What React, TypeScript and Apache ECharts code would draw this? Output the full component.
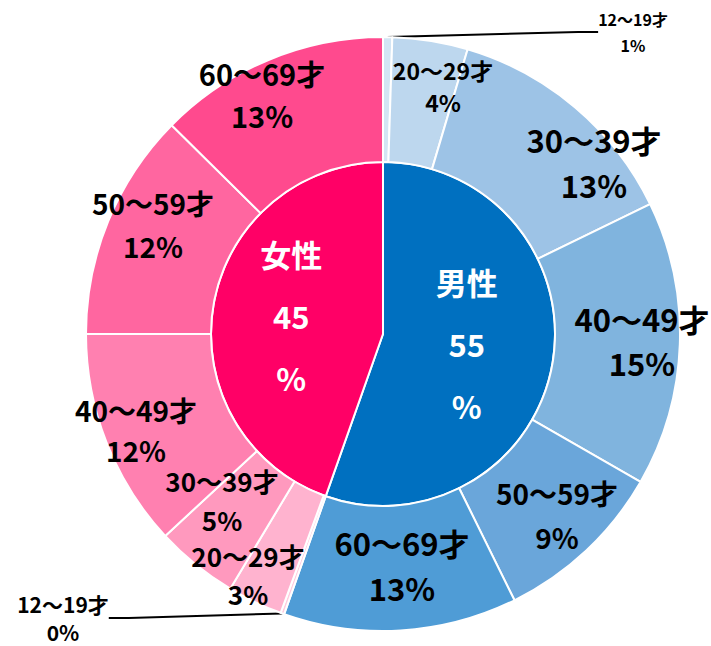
import React, { useEffect, useRef } from "react";
import * as echarts from "echarts";

const genders = ["男性", "女性"];
const genderValues = [55.4, 44.6];
const genderLabels = ["55", "45"];
const genderColors = ["#0070C0", "#FF0066"];

const ageGroups = ["12～19才", "20～29才", "30～39才", "40～49才", "50～59才", "60～69才"];
const maleValues = [0.5, 4.1, 13.2, 15.5, 9.4, 12.7];
const maleLabels = ["1%", "4%", "13%", "15%", "9%", "13%"];
const femaleValues = [0.2, 3.0, 4.5, 11.9, 12.4, 12.6];
const femaleLabels = ["0%", "3%", "5%", "12%", "12%", "13%"];

// styles
const maleColors = ["#D3E5F4", "#BDD7EE", "#9DC3E6", "#80B4DE", "#6AA6DA", "#4F9CD6"];
const femaleColors = ["#FFCCE0", "#FFB3CF", "#FF99BE", "#FF80B0", "#FF66A0", "#FF4A8E"];
const maleFontSizes = [16, 23, 31, 31, 28, 31];
const femaleFontSizes = [21, 26, 26, 28, 28, 29];
const maleLineHeights = [26, 32, 45, 44, 44, 45];
const femaleLineHeights = [28, 38, 39, 40, 43, 42];
// label anchor (centre of the text block) in pixels
const maleLabelPos = [[633, 32], [443, 86], [594, 162], [642, 340], [557, 515], [402, 565]];
const femaleLabelPos = [[63, 618], [248, 574], [222, 500], [136, 430], [153, 224], [262, 94]];

const FONT = '"Noto Sans CJK JP", "Noto Sans", sans-serif';

export default function App() {
  const ref = useRef<HTMLDivElement>(null);
  useEffect(() => {
    if (!ref.current) return;
    const chart = echarts.init(ref.current, undefined, { renderer: "svg" });

    const outerData: any[] = [];
    const labelPos: number[][] = [];
    const pushGroup = (
      values: number[],
      labels: string[],
      colors: string[],
      sizes: number[],
      lhs: number[],
      pos: number[][]
    ) => {
      values.forEach((v, i) => {
        const small = i === 0;
        labelPos.push(pos[i]);
        outerData.push({
          name: ageGroups[i],
          value: v,
          pct: labels[i],
          itemStyle: { color: colors[i] },
          label: { fontSize: sizes[i], lineHeight: lhs[i] },
          labelLine: small
            ? { show: true, length: 2, length2: 20, lineStyle: { color: "#000000", width: 2 } }
            : { show: false },
        });
      });
    };
    pushGroup(maleValues, maleLabels, maleColors, maleFontSizes, maleLineHeights, maleLabelPos);
    pushGroup(femaleValues, femaleLabels, femaleColors, femaleFontSizes, femaleLineHeights, femaleLabelPos);

    chart.setOption({
      animation: false,
      backgroundColor: "#ffffff",
      series: [
        {
          type: "pie",
          center: [383, 334],
          radius: [0, 172],
          startAngle: 90,
          clockwise: true,
          silent: true,
          itemStyle: { borderColor: "#ffffff", borderWidth: 2 },
          label: {
            show: true,
            position: "inside",
            color: "#ffffff",
            fontFamily: FONT,
            fontWeight: "bold",
            fontSize: 31,
            lineHeight: 62,
            formatter: (p: any) => `${p.name}\n${genderLabels[p.dataIndex]}\n%`,
          },
          labelLayout: (p: any) => ({ dy: p.dataIndex === 0 ? -6 : -3, dx: -4 }),
          labelLine: { show: false },
          data: genders.map((g, i) => ({ name: g, value: genderValues[i], itemStyle: { color: genderColors[i] } })),
        },
        {
          type: "pie",
          center: [383, 334],
          radius: [172, 297],
          startAngle: 90,
          clockwise: true,
          silent: true,
          avoidLabelOverlap: false,
          minShowLabelAngle: 0,
          itemStyle: { borderColor: "#ffffff", borderWidth: 2 },
          label: {
            show: true,
            position: "outside",
            alignTo: "none",
            color: "#000000",
            fontFamily: FONT,
            fontWeight: "bold",
            formatter: (p: any) => `${p.name}\n${p.data.pct}`,
          },
          labelLayout: (p: any) => {
            const pos = labelPos[p.dataIndex];
            return { x: pos[0], y: pos[1], align: "center", verticalAlign: "middle", hideOverlap: false };
          },
          data: outerData,
        },
      ],
    });
    return () => chart.dispose();
  }, []);
  return <div ref={ref} style={{ position: "fixed", left: 0, top: 0, width: 711, height: 646 }} />;
}
